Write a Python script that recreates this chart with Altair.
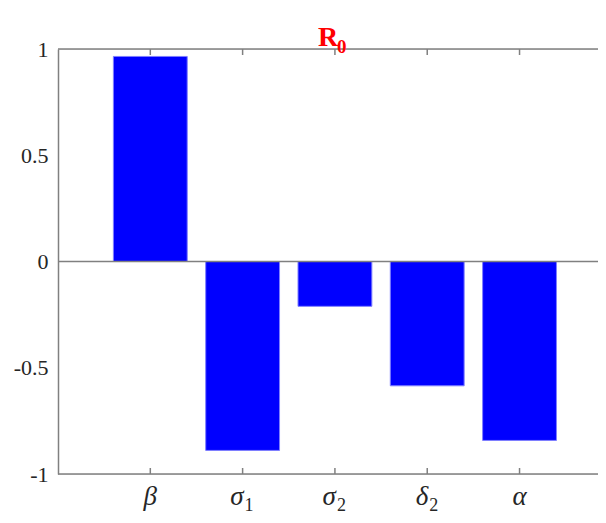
import altair as alt
import pandas as pd

# ---- data ----
positions = [1, 2, 3, 4, 5]
params = ["β", "σ", "σ", "δ", "α"]
subscripts = ["", "1", "2", "2", ""]
values = [0.965, -0.889, -0.211, -0.585, -0.842]
yticks = [-1, -0.5, 0, 0.5, 1]
title_main = "R"
title_sub = "0"

df = pd.DataFrame({"pos": positions, "param": params, "sub": subscripts, "value": values})

W, H = 540, 425
FONT = "Liberation Serif"
AXC = "#808080"
TXT = "#262626"

xs = alt.Scale(domain=[0, 5.85], nice=False, zero=False)
ys = alt.Scale(domain=[-1, 1], nice=False, zero=False)

base = alt.Chart(df)

bars = base.transform_calculate(
    x0="datum.pos - 0.4", x1="datum.pos + 0.4", zero="0"
).mark_rect(color="#0000ff", stroke="#7f7fff", strokeWidth=1).encode(
    x=alt.X("x0:Q", scale=xs, axis=None),
    x2="x1:Q",
    y=alt.Y(
        "value:Q",
        scale=ys,
        axis=alt.Axis(
            values=yticks,
            labelExpr="toString(datum.value)",
            labelFont=FONT,
            labelFontSize=22,
            labelColor=TXT,
            domainColor=AXC,
            domainWidth=1.5,
            ticks=False,
            grid=False,
            labelPadding=10,
            title=None,
        ),
    ),
    y2="zero:Q",
)

zero_line = alt.Chart(pd.DataFrame({"zero": [0]})).mark_rule(
    color=AXC, strokeWidth=1.5
).encode(y=alt.Y("zero:Q", scale=ys))

top_line = alt.Chart(pd.DataFrame({"zero": [0]})).mark_rule(
    color=AXC, strokeWidth=1.5
).encode(y=alt.value(0))

bottom_line = alt.Chart(pd.DataFrame({"zero": [0]})).mark_rule(
    color=AXC, strokeWidth=1.5
).encode(y=alt.value(H))

ticks_bottom = base.mark_rule(color=AXC, strokeWidth=1.5).encode(
    x=alt.X("pos:Q", scale=xs), y=alt.value(H), y2=alt.value(H - 6)
)
ticks_top = base.mark_rule(color=AXC, strokeWidth=1.5).encode(
    x=alt.X("pos:Q", scale=xs), y=alt.value(0), y2=alt.value(6)
)

# letters without subscript (centered on tick)
xlab_plain = base.transform_filter("datum.sub == ''").mark_text(
    font=FONT, fontStyle="italic", fontSize=27, baseline="alphabetic",
    align="center", color=TXT
).encode(x=alt.X("pos:Q", scale=xs), y=alt.value(H + 31), text="param:N")

# letters with subscript (shifted left so letter+subscript is centered)
xlab_sub = base.transform_filter("datum.sub != ''").mark_text(
    font=FONT, fontStyle="italic", fontSize=27, baseline="alphabetic",
    align="right", color=TXT, dx=1
).encode(x=alt.X("pos:Q", scale=xs), y=alt.value(H + 31), text="param:N")

xsub = base.transform_filter("datum.sub != ''").mark_text(
    font=FONT, fontSize=18, baseline="alphabetic", align="left", color=TXT, dx=2
).encode(x=alt.X("pos:Q", scale=xs), y=alt.value(H + 37), text="sub:N")

tdf = pd.DataFrame({"main": [title_main], "sub": [title_sub]})
t_main = alt.Chart(tdf).mark_text(
    font=FONT, fontWeight="bold", fontSize=28, color="#ff0000",
    baseline="alphabetic", align="center"
).encode(x=alt.value(W / 2), y=alt.value(-3), text="main:N")
t_sub = alt.Chart(tdf).mark_text(
    font=FONT, fontWeight="bold", fontSize=19, color="#ff0000",
    baseline="alphabetic", align="left"
).encode(x=alt.value(W / 2 + 9), y=alt.value(4), text="sub:N")

chart = alt.layer(
    bars, zero_line, top_line, bottom_line, ticks_bottom, ticks_top,
    xlab_plain, xlab_sub, xsub, t_main, t_sub
).properties(
    width=W, height=H,
    autosize=alt.AutoSizeParams(type="none"),
    padding={"left": 50, "top": 41, "right": 0, "bottom": 41},
).configure_view(stroke=None).configure(background="white")

chart.save("out.html", embed_options={"renderer": "svg", "actions": False})
